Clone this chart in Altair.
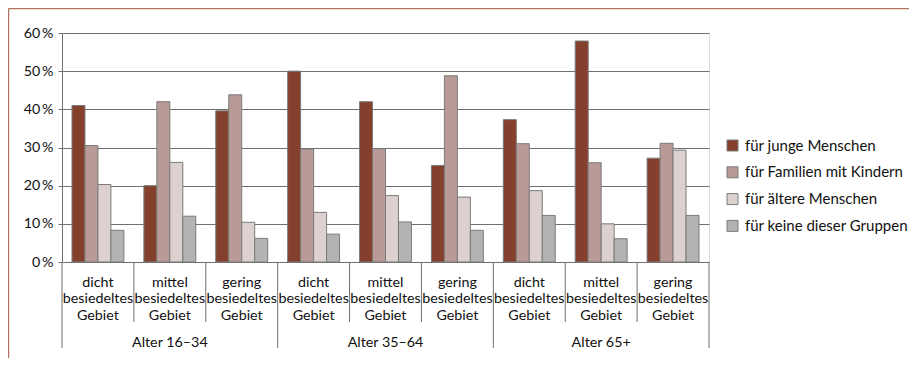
import altair as alt
import pandas as pd

ages = ["Alter 16–34", "Alter 35–64", "Alter 65+"]
densities = ["dicht", "mittel", "gering"]
series = ["für junge Menschen", "für Familien mit Kindern", "für ältere Menschen", "für keine dieser Gruppen"]
colors = ["#84402c", "#b89b96", "#dcd1cf", "#b3b3b3"]

# values in percent, group order: age x density
young = [41.0, 20.0, 39.6, 50.0, 42.0, 25.3, 37.3, 57.9, 27.2]
families = [30.5, 42.0, 43.8, 29.6, 29.7, 48.8, 31.0, 26.0, 31.1]
elderly = [20.3, 26.1, 10.4, 13.0, 17.4, 17.0, 18.7, 10.0, 29.3]
nobody = [8.3, 12.0, 6.2, 7.3, 10.5, 8.3, 12.2, 6.1, 12.2]
y_ticks = [0, 0.1, 0.2, 0.3, 0.4, 0.5, 0.6]

FONT = "Lato"
GRID = "#707070"
TXT = "#111111"
W, H = 647, 229

groups = [f"{a}|{d}" for a in ages for d in densities]
rows = []
for vals, s in zip([young, families, elderly, nobody], series):
    for g, v in zip(groups, vals):
        rows.append({"group": g, "series": s, "value": v / 100})
bars_df = pd.DataFrame(rows)

grp_df = pd.DataFrame({
    "group": groups,
    "age": [a for a in ages for d in densities],
    "density": [d for a in ages for d in densities],
    "label": [f"{d}\nbesiedeltes\nGebiet" for a in ages for d in densities],
})

xscale = alt.Scale(domain=groups, paddingInner=0, paddingOuter=0)

bars = alt.Chart(bars_df).mark_bar(stroke="#7a7a7a", strokeWidth=1).encode(
    x=alt.X("group:N", scale=xscale, axis=None, sort=groups),
    xOffset=alt.XOffset("series:N", scale=alt.Scale(domain=series, paddingInner=0, paddingOuter=0.77), sort=series),
    y=alt.Y("value:Q", scale=alt.Scale(domain=[0, 0.6], nice=False),
            axis=alt.Axis(values=y_ticks, grid=True, gridColor=GRID, gridWidth=1,
                          domainColor=GRID, tickColor=GRID, tickSize=4,
                          labelPadding=5, labelFont=FONT, labelFontSize=14.3,
                          labelColor=TXT, title=None,
                          labelExpr="format(datum.value*100, '.0f') + '\u2009%'")),
    color=alt.Color("series:N", scale=alt.Scale(domain=series, range=colors),
                    legend=alt.Legend(title=None, orient="none", legendX=663, legendY=105,
                                      symbolType="square", symbolSize=121,
                                      symbolStrokeColor="#7a7a7a", symbolStrokeWidth=1,
                                      symbolOpacity=1, labelFont=FONT, labelFontSize=15,
                                      labelColor=TXT, labelOffset=5, rowPadding=10.8,
                                      padding=0, labelLimit=300)),
)

minor = alt.Chart(grp_df).transform_filter("datum.density != 'dicht'").mark_rule(color=GRID, strokeWidth=1).encode(
    x=alt.X("group:N", scale=xscale, bandPosition=0, sort=groups),
    y=alt.value(H), y2=alt.value(289),
)
major = alt.Chart(grp_df).transform_filter("datum.density == 'dicht'").mark_rule(color=GRID, strokeWidth=1).encode(
    x=alt.X("group:N", scale=xscale, bandPosition=0, sort=groups),
    y=alt.value(H), y2=alt.value(315),
)
major_end = alt.Chart(grp_df).transform_filter(f"datum.group == '{groups[-1]}'").mark_rule(color=GRID, strokeWidth=1).encode(
    x=alt.X("group:N", scale=xscale, bandPosition=1, sort=groups),
    y=alt.value(H), y2=alt.value(315),
)

dens_text = alt.Chart(grp_df).mark_text(font=FONT, fontSize=14.3, color=TXT, lineBreak="\n",
                                        lineHeight=16.6, baseline="alphabetic", align="center").encode(
    x=alt.X("group:N", scale=xscale, bandPosition=0.5, sort=groups),
    y=alt.value(253.7),
    text="label:N",
)
age_text = alt.Chart(grp_df).transform_filter("datum.density == 'mittel'").mark_text(
    font=FONT, fontSize=14.3, color=TXT, baseline="alphabetic", align="center").encode(
    x=alt.X("group:N", scale=xscale, bandPosition=0.5, sort=groups),
    y=alt.value(313.5),
    text="age:N",
)

one = pd.DataFrame({"a": [0]})
border_top = alt.Chart(one).mark_rule(color="#b0735e", strokeWidth=1.2).encode(
    x=alt.value(-53.5), x2=alt.value(900), y=alt.value(-24.4))
border_left = alt.Chart(one).mark_rule(color="#b0735e", strokeWidth=1.2).encode(
    x=alt.value(-53.4), y=alt.value(-24.5), y2=alt.value(330))

chart = alt.layer(bars, minor, major, major_end, dens_text, age_text, border_top, border_left).properties(
    width=W, height=H,
    autosize=alt.AutoSizeParams(type="none"),
    padding={"left": 54, "top": 25, "right": 200, "bottom": 96},
).configure_view(stroke=None).configure(background="white")

chart.save("out.html", embed_options={"renderer": "svg", "actions": False})
